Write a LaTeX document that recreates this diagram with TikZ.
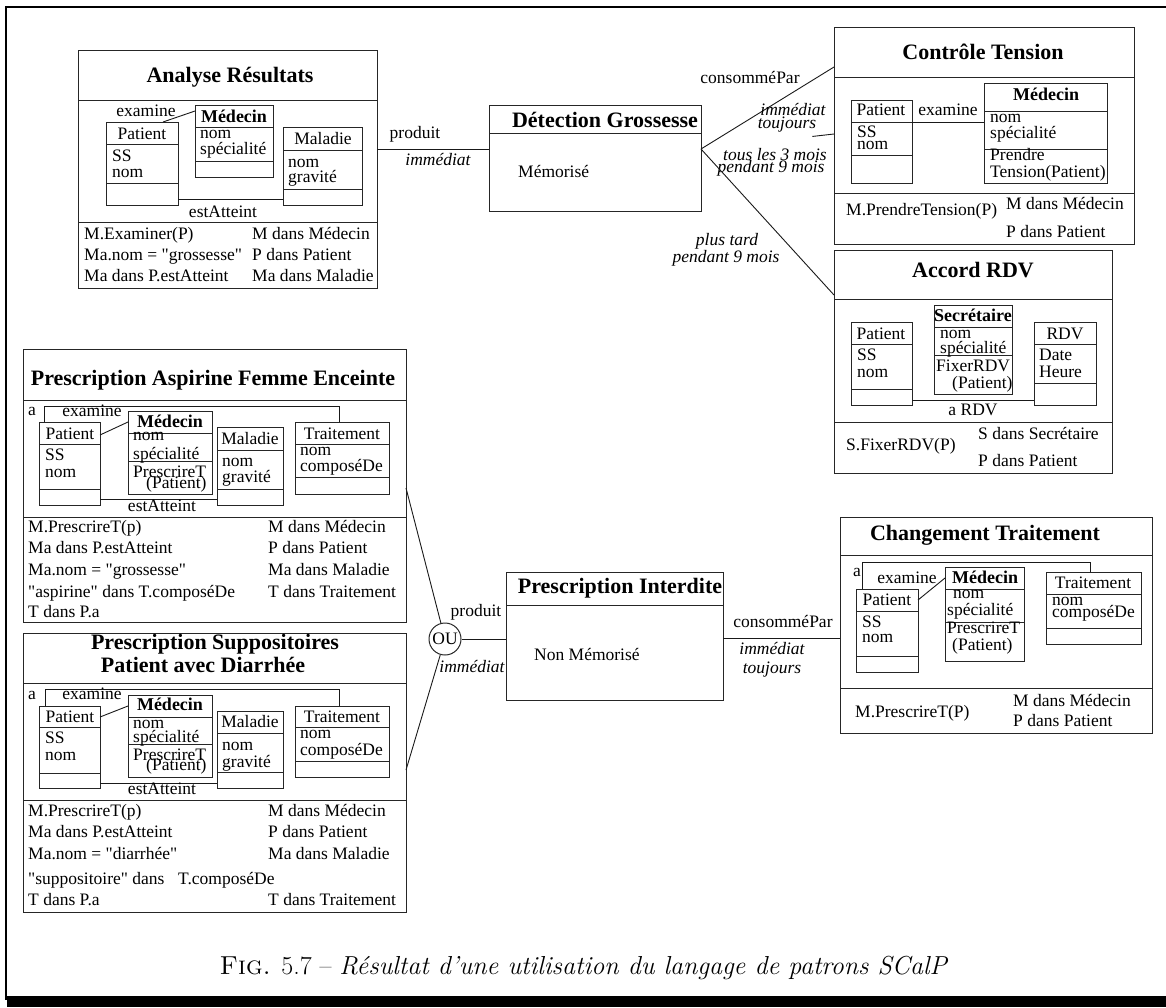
\documentclass[tikz,border=0pt]{standalone}
\usepackage{fontspec}
\setmainfont{Liberation Serif}
\usetikzlibrary{calc}

\newcommand\bodyf{\fontsize{17.5}{18}\selectfont}
\newcommand\titlef{\fontsize{22}{24}\selectfont\bfseries}
\newcommand\clsf{\fontsize{18}{18}\selectfont\bfseries}
\newcommand\dq{\textquotedbl}

\tikzset{
  box/.style={draw=black!85, line width=1pt},
  lt/.style={inner sep=0pt, anchor=base west, font=\bodyf},
  ct/.style={inner sep=0pt, anchor=base, font=\bodyf},
  it/.style={inner sep=0pt, anchor=base, font=\bodyf\itshape},
  ttl/.style={inner sep=0pt, anchor=base, font=\titlef},
  cls/.style={inner sep=0pt, anchor=base, font=\clsf},
  link/.style={draw=black!90, line width=0.9pt},
}

% three-compartment box: name, left, right, top, divider 1, divider 2, bottom
\newcommand\umlcls[7]{%
  \node[box, inner sep=0pt, outer sep=0pt, minimum width={(#3-#2)*1pt},
        minimum height={(#7-#4)*1pt}, anchor=north west] (#1) at (#2,#4) {};
  \draw[box] (#1.north west |- 0,#5) -- (#1.north east |- 0,#5)
             (#1.north west |- 0,#6) -- (#1.north east |- 0,#6);
}
% two-compartment box: name, left, right, top, divider, bottom
\newcommand\evtbox[6]{%
  \node[box, inner sep=0pt, outer sep=0pt, minimum width={(#3-#2)*1pt},
        minimum height={(#6-#4)*1pt}, anchor=north west] (#1) at (#2,#4) {};
  \draw[box] (#1.north west |- 0,#5) -- (#1.north east |- 0,#5);
}

\begin{document}
\begin{tikzpicture}[x=1pt,y=-1pt]
\useasboundingbox (0,0) rectangle (1166,1007);

% page frame
\draw[line width=2.5pt] (5,7) -- (1166,7);
\draw[line width=2.5pt] (6,6) -- (6,1000);
\fill (7,996) rectangle (1166,1007);

% ---------------- Analyse Resultats ----------------
\umlcls{ar}{78}{377}{50}{100}{222}{288}
\node[ttl] (ar-t) at (230,82) {Analyse Résultats};
\umlcls{ar-p}{106}{178}{122}{144}{183}{205}
\node[ct] (ar-p1) at (142,139) {Patient};
\node[lt] (ar-p2) at (112,161) {SS};
\node[lt] (ar-p3) at (112,177) {nom};
\umlcls{ar-m}{195}{273}{105}{127}{161}{177}
\node[cls] (ar-m1) at (234,122) {Médecin};
\node[lt] (ar-m2) at (200,138) {nom};
\node[lt] (ar-m3) at (200,154) {spécialité};
\umlcls{ar-d}{283}{362}{127}{150}{189}{205}
\node[ct] (ar-d1) at (323,144) {Maladie};
\node[lt] (ar-d2) at (288,167) {nom};
\node[lt] (ar-d3) at (288,182) {gravité};
\node[ct] (ar-ex) at (146,116) {examine};
\draw[link] (ar-p.north west -| 163,0) -- (ar-m.north west |- 0,111);
\draw[link] (ar-p.east |- 0,199) -- (ar-d.west |- 0,199);
\node[ct] (ar-ea) at (223,217) {estAtteint};
\node[lt] (ar-b1) at (84,239) {M.Examiner(P)};
\node[lt] (ar-b2) at (84,260) {Ma.nom = \dq grossesse\dq};
\node[lt] (ar-b3) at (84,281) {Ma dans P.estAtteint};
\node[lt] (ar-b4) at (252,239) {M dans Médecin};
\node[lt] (ar-b5) at (252,260) {P dans Patient};
\node[lt] (ar-b6) at (252,281) {Ma dans Maladie};

% ---------------- Detection Grossesse ----------------
\evtbox{dg}{489}{701}{105}{133}{211}
\node[ttl] (dg-t) at (605,127) {Détection Grossesse};
\node[lt] (dg-s) at (518,177) {Mémorisé};
\draw[link] (ar.north east |- 0,149) -- (dg.north west |- 0,149);
\node[ct] (dg-in1) at (415,138) {produit};
\node[it] (dg-in2) at (438,165) {immédiat};
\coordinate (dgout) at (dg.north east |- 0,149);

% ---------------- Controle Tension ----------------
\umlcls{ct}{834}{1134}{27}{77}{193}{244}
\node[ttl] (ct-t) at (983,59) {Contrôle Tension};
\umlcls{ct-p}{851}{912}{100}{122}{155}{183}
\node[ct] (ct-p1) at (881,115) {Patient};
\node[lt] (ct-p2) at (857,137) {SS};
\node[lt] (ct-p3) at (857,149) {nom};
\umlcls{ct-m}{984}{1107}{83}{111}{149}{183}
\node[cls] (ct-m1) at (1046,100) {Médecin};
\node[lt] (ct-m2) at (990,122) {nom};
\node[lt] (ct-m3) at (990,138) {spécialité};
\node[lt] (ct-m4) at (990,160) {Prendre};
\node[lt] (ct-m5) at (990,177) {Tension(Patient)};
\node[ct] (ct-ex) at (948,115) {examine};
\draw[link] (ct-p.east |- 0,122) -- (ct-m.west |- 0,122);
\node[lt] (ct-b1) at (846,215) {M.PrendreTension(P)};
\node[lt] (ct-b2) at (1006,209) {M dans Médecin};
\node[lt] (ct-b3) at (1006,237) {P dans Patient};

\draw[link] (dgout) -- (ct.north west |- 0,67);
\node[ct] (l1a) at (750,83) {consomméPar};
\node[it] (l1b) at (793,115) {immédiat};
\node[it] (l1c) at (787,128) {toujours};
\draw[link, shorten <=112pt] (dgout) -- (ct.north west |- 0,134);
\node[it] (l2a) at (775,160) {tous les 3 mois};
\node[it] (l2b) at (771,172) {pendant 9 mois};

% ---------------- Accord RDV ----------------
\umlcls{rv}{834}{1112}{250}{299}{422}{473}
\node[ttl] (rv-t) at (973,277) {Accord RDV};
\umlcls{rv-p}{851}{912}{322}{344}{389}{405}
\node[ct] (rv-p1) at (881,339) {Patient};
\node[lt] (rv-p2) at (857,360) {SS};
\node[lt] (rv-p3) at (857,377) {nom};
\umlcls{rv-s}{934}{1012}{305}{327}{355}{394}
\node[cls] (rv-s1) at (973,321) {Secrétaire};
\node[lt] (rv-s2) at (940,338) {nom};
\node[lt] (rv-s3) at (940,353) {spécialité};
\node[lt] (rv-s4) at (936,371) {FixerRDV};
\node[lt] (rv-s5) at (952,388) {(Patient)};
\umlcls{rv-r}{1034}{1096}{322}{344}{383}{405}
\node[ct] (rv-r1) at (1065,339) {RDV};
\node[lt] (rv-r2) at (1039,360) {Date};
\node[lt] (rv-r3) at (1039,377) {Heure};
\draw[link] (rv-p.east |- 0,400) -- (rv-r.west |- 0,400);
\node[ct] (rv-a) at (973,415) {a RDV};
\node[lt] (rv-b1) at (846,450) {S.FixerRDV(P)};
\node[lt] (rv-b2) at (978,439) {S dans Secrétaire};
\node[lt] (rv-b3) at (978,466) {P dans Patient};

\draw[link] (dgout) -- (rv.north west |- 0,295);
\node[it] (l3a) at (727,245) {plus tard};
\node[it] (l3b) at (726,262) {pendant 9 mois};

% ---------------- Prescription Aspirine Femme Enceinte ----------------
\umlcls{pa}{23}{406}{349}{400}{517}{622}
\node[ttl] (pa-t) at (213,385) {Prescription Aspirine Femme Enceinte};
\node[lt] (pa-a) at (28,415) {a};
\node[ct] (pa-ex) at (92,416) {examine};
\umlcls{pa-p}{39}{100}{422}{444}{489}{505}
\node[ct] (pa-p1) at (70,439) {Patient};
\node[lt] (pa-p2) at (45,460) {SS};
\node[lt] (pa-p3) at (45,477) {nom};
\umlcls{pa-m}{128}{212}{411}{433}{461}{494}
\node[cls] (pa-m1) at (170,427) {Médecin};
\node[lt] (pa-m2) at (133,440) {nom};
\node[lt] (pa-m3) at (133,459) {spécialité};
\node[lt] (pa-m4) at (133,477) {PrescrireT};
\node[lt] (pa-m5) at (146,488) {(Patient)};
\umlcls{pa-d}{217}{283}{427}{450}{489}{505}
\node[ct] (pa-d1) at (250,444) {Maladie};
\node[lt] (pa-d2) at (222,466) {nom};
\node[lt] (pa-d3) at (222,482) {gravité};
\umlcls{pa-r}{295}{389}{422}{444}{477}{494}
\node[ct] (pa-r1) at (342,439) {Traitement};
\node[lt] (pa-r2) at (300,455) {nom};
\node[lt] (pa-r3) at (300,471) {composéDe};
\draw[link] (pa-p.north east |- 0,435) -- (pa-m.north west |- 0,422);
\draw[link] (pa-p.east |- 0,499) -- (pa-d.west |- 0,499);
\draw[link] (pa-p.north -| 44,0) -- ++(0,-16) -| (pa-r.north -| 339,0);
\node[ct] (pa-ea) at (162,511) {estAtteint};
\node[lt] (pa-b1) at (28,532) {M.PrescrireT(p)};
\node[lt] (pa-b2) at (28,553) {Ma dans P.estAtteint};
\node[lt] (pa-b3) at (28,575) {Ma.nom = \dq grossesse\dq};
\node[lt] (pa-b4) at (28,597) {\dq aspirine\dq{} dans T.composéDe};
\node[lt] (pa-b5) at (28,617) {T dans P.a};
\node[lt] (pa-b6) at (268,532) {M dans Médecin};
\node[lt] (pa-b7) at (268,553) {P dans Patient};
\node[lt] (pa-b8) at (268,575) {Ma dans Maladie};
\node[lt] (pa-b9) at (268,597) {T dans Traitement};

% ---------------- Prescription Suppositoires ----------------
\umlcls{ps}{23}{406}{633}{683}{800}{912}
\node[ttl] (ps-t1) at (215,649) {Prescription Suppositoires};
\node[ttl] (ps-t2) at (203,672) {Patient avec Diarrhée};
\node[lt] (ps-a) at (28,699) {a};
\node[ct] (ps-ex) at (92,699) {examine};
\umlcls{ps-p}{39}{100}{706}{727}{773}{788}
\node[ct] (ps-p1) at (70,722) {Patient};
\node[lt] (ps-p2) at (45,743) {SS};
\node[lt] (ps-p3) at (45,760) {nom};
\umlcls{ps-m}{128}{212}{695}{717}{744}{777}
\node[cls] (ps-m1) at (170,710) {Médecin};
\node[lt] (ps-m2) at (133,728) {nom};
\node[lt] (ps-m3) at (133,742) {spécialité};
\node[lt] (ps-m4) at (133,760) {PrescrireT};
\node[lt] (ps-m5) at (146,770) {(Patient)};
\umlcls{ps-d}{217}{283}{711}{733}{772}{788}
\node[ct] (ps-d1) at (250,727) {Maladie};
\node[lt] (ps-d2) at (222,750) {nom};
\node[lt] (ps-d3) at (222,767) {gravité};
\umlcls{ps-r}{295}{389}{706}{727}{761}{777}
\node[ct] (ps-r1) at (342,722) {Traitement};
\node[lt] (ps-r2) at (300,738) {nom};
\node[lt] (ps-r3) at (300,755) {composéDe};
\draw[link] (ps-p.north east |- 0,717) -- (ps-m.north west |- 0,706);
\draw[link] (ps-p.east |- 0,783) -- (ps-d.west |- 0,783);
\draw[link] (ps-p.north -| 45,0) -- ++(0,-17) -| (ps-r.north -| 339,0);
\node[ct] (ps-ea) at (162,794) {estAtteint};
\node[lt] (ps-b1) at (28,816) {M.PrescrireT(p)};
\node[lt] (ps-b2) at (28,837) {Ma dans P.estAtteint};
\node[lt] (ps-b3) at (28,859) {Ma.nom = \dq diarrhée\dq};
\node[lt] (ps-b4) at (28,884) {\dq suppositoire\dq{} dans};
\node[lt] (ps-b5) at (178,884) {T.composéDe};
\node[lt] (ps-b6) at (28,905) {T dans P.a};
\node[lt] (ps-b7) at (268,816) {M dans Médecin};
\node[lt] (ps-b8) at (268,837) {P dans Patient};
\node[lt] (ps-b9) at (268,859) {Ma dans Maladie};
\node[lt] (ps-b10) at (268,905) {T dans Traitement};

% ---------------- OU junction and Prescription Interdite ----------------
\node[box, circle, minimum size=32pt, inner sep=0pt, font=\bodyf] (ou) at (445,639) {OU};
\draw[link] (pa.north east |- 0,488) -- (ou);
\draw[link] (ps.north east |- 0,770) -- (ou);

\evtbox{pi}{506}{723}{572}{605}{700}
\node[ttl] (pi-t) at (620,593) {Prescription Interdite};
\node[lt] (pi-s) at (534,660) {Non Mémorisé};
\draw[link] (ou) -- (pi.north west |- 0,639);
\node[ct] (pi-in1) at (476,616) {produit};
\node[it] (pi-in2) at (472,672) {immédiat};

% ---------------- Changement Traitement ----------------
\umlcls{cx}{840}{1152}{517}{555}{688}{733}
\node[ttl] (cx-t) at (985,540) {Changement Traitement};
\node[lt] (cx-a) at (853,576) {a};
\node[ct] (cx-ex) at (907,583) {examine};
\umlcls{cx-p}{856}{918}{589}{611}{656}{672}
\node[ct] (cx-p1) at (887,605) {Patient};
\node[lt] (cx-p2) at (862,627) {SS};
\node[lt] (cx-p3) at (862,642) {nom};
\umlcls{cx-m}{945}{1024}{567}{589}{622}{661}
\node[cls] (cx-m1) at (985,583) {Médecin};
\node[lt] (cx-m2) at (953,598) {nom};
\node[lt] (cx-m3) at (947,615) {spécialité};
\node[lt] (cx-m4) at (947,633) {PrescrireT};
\node[lt] (cx-m5) at (952,650) {(Patient)};
\umlcls{cx-r}{1046}{1141}{572}{594}{628}{644}
\node[ct] (cx-r1) at (1093,588) {Traitement};
\node[lt] (cx-r2) at (1052,605) {nom};
\node[lt] (cx-r3) at (1052,617) {composéDe};
\draw[link] (cx-p.north east |- 0,600) -- (cx-m.north west |- 0,578);
\draw[link] (cx-p.north -| 862,0) -- ++(0,-27) -| (cx-r.north -| 1090,0);
\node[lt] (cx-b1) at (855,717) {M.PrescrireT(P)};
\node[lt] (cx-b2) at (1013,706) {M dans Médecin};
\node[lt] (cx-b3) at (1013,726) {P dans Patient};

\draw[link] (pi.north east |- 0,638) -- (cx.north west |- 0,638);
\node[ct] (l4a) at (783,627) {consomméPar};
\node[it] (l4b) at (772,654) {immédiat};
\node[it] (l4c) at (772,673) {toujours};

% ---------------- caption ----------------
\node[inner sep=0pt, anchor=base, font=\fontfamily{lmr}\fontsize{26}{28}\selectfont] (cap) at (584,974)
  {\textsc{Fig.} 5.7 -- \textit{Résultat d'une utilisation du langage de patrons SCalP}};
\end{tikzpicture}
\end{document}
